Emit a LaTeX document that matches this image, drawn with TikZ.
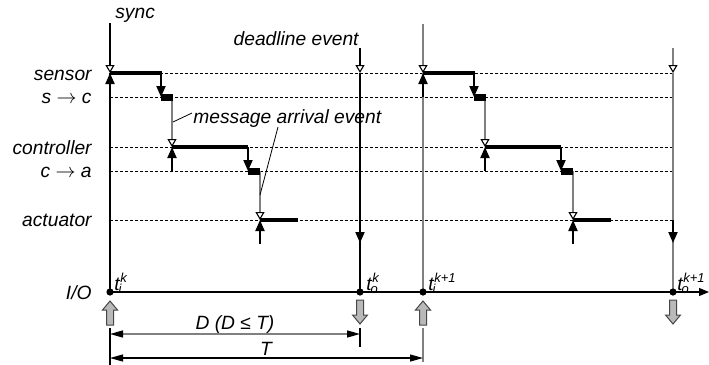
\documentclass[tikz,border=0pt]{standalone}
\usepackage{fontspec}
\setmainfont{Liberation Sans}
\usetikzlibrary{arrows.meta}
\definecolor{lgray}{RGB}{128,128,128}
\definecolor{agray}{RGB}{185,185,185}
\definecolor{aedge}{RGB}{70,70,70}
\newcommand\tlab[2]{\textit{t}\kern-0.6pt\rlap{\raisebox{-1.8pt}{\fontsize{6.5}{7}\selectfont\itshape #1}}\kern0.9pt\raisebox{3.8pt}{\fontsize{6.5}{7}\selectfont\itshape #2}}
\begin{document}
\begin{tikzpicture}[x=0.5pt,y=-0.5pt,
  lbl/.style={font=\fontsize{9.6}{11}\selectfont\itshape, inner sep=0pt},
  dashln/.style={dash pattern=on 1.5pt off 1pt, line width=0.35pt},
  evline/.style={line width=0.55pt},
  opentip/.style={-{Triangle[length=4pt,width=4.5pt,color=black,fill=white]}},
  barline/.style={line width=2pt},
  blockline/.style={line width=3.5pt},
  blkarrow/.style={line width=1pt,-{Triangle[length=5.5pt,width=4.5pt]}},
  dimtips/.style={line width=0.7pt,{Triangle[length=6.5pt,width=3.5pt,color=black]}-{Triangle[length=6.5pt,width=3.5pt,color=black]}},
  uparr/.pic={\filldraw[fill=agray,draw=aedge,line width=0.5pt] (0,0) -- (7.5,9) -- (3.5,9) -- (3.5,24) -- (-3.5,24) -- (-3.5,9) -- (-7.5,9) -- cycle;},
  dnarr/.pic={\filldraw[fill=agray,draw=aedge,line width=0.5pt] (0,0) -- (7.5,-9) -- (3.5,-9) -- (3.5,-24) -- (-3.5,-24) -- (-3.5,-9) -- (-7.5,-9) -- cycle;}
]
\useasboundingbox (0,0) rectangle (709,365);
% dashed lane lines
\foreach \y in {73,97,147,171,220} \draw[dashln] (110,\y) -- (673,\y);
% lane labels
\node[lbl,anchor=base east] (sensor) at (92,80) {sensor};
\node[lbl,anchor=base east] (sc) at (92,103) {s $\rightarrow$ c};
\node[lbl,anchor=base east] (controller) at (92,154) {controller};
\node[lbl,anchor=base east] (ca) at (92,177) {c $\rightarrow$ a};
\node[lbl,anchor=base east] (actuator) at (92,226) {actuator};
\node[lbl,anchor=base east] (io) at (92,299) {I/O};
\node[lbl,anchor=base west] (sync) at (115,18) {sync};
\node[lbl,anchor=base east] (deadline) at (359,45) {deadline event};
\node[lbl,anchor=base west] (msg) at (193,123) {message arrival event};
% cycles
\foreach \o/\c/\top in {0/black/23,313/lgray/24}{
  \draw[evline,\c,opentip] (110+\o,\top) -- (110+\o,73);
  \draw[evline,\c] (110+\o,73) -- (110+\o,292);
  \draw[evline,\c,opentip] (360+\o,48) -- (360+\o,73);
  \draw[evline,\c] (360+\o,73) -- (360+\o,292);
  \draw[evline,lgray,opentip] (172+\o,97) -- (172+\o,147);
  \draw[evline,lgray,opentip] (260+\o,171) -- (260+\o,220);
  \draw[barline] (110+\o,73) -- (162+\o,73);
  \draw[blockline] (161+\o,97) -- (173+\o,97);
  \draw[barline] (172+\o,147) -- (248+\o,147);
  \draw[blockline] (248+\o,171) -- (260+\o,171);
  \draw[barline] (260+\o,220) -- (298+\o,220);
  \draw[blkarrow] (110+\o,97) -- (110+\o,73);
  \draw[blkarrow] (161+\o,73) -- (161+\o,97);
  \draw[blkarrow] (172+\o,171) -- (172+\o,147);
  \draw[blkarrow] (248+\o,147) -- (248+\o,171);
  \draw[blkarrow] (260+\o,244) -- (260+\o,220);
  \draw[blkarrow] (360+\o,220) -- (360+\o,243);
}
% leaders
\coordinate (m1) at (192,113);
\coordinate (m1e) at (173,122);
\coordinate (m2) at (278,127);
\coordinate (m2e) at (260,195);
\draw[line width=0.4pt] (m1) -- (m1e);
\draw[line width=0.4pt] (m2) -- (m2e);
% I/O axis
\draw[evline,-{Triangle[length=5pt,width=4pt]}] (110,292) -- (709,292);
\foreach \x in {110,360,423,673} \fill (\x,292) circle (1.8pt);
\node[lbl,anchor=base west] (ti) at (114,290) {\tlab{i}{k}};
\node[lbl,anchor=base west] (to) at (366,290) {\tlab{o}{k}};
\node[lbl,anchor=base west] (ti1) at (428,290) {\tlab{i}{k+1}};
\node[lbl,anchor=base west] (to1) at (677,290) {\tlab{o}{k+1}};
% block arrows
\pic at (110,301) {uparr};
\pic at (423,301) {uparr};
\pic at (360,324) {dnarr};
\pic at (673,324) {dnarr};
% dimensions
\draw[evline] (110,328) -- (110,365);
\draw[evline] (360,328) -- (360,347);
\draw[evline,lgray] (423,328) -- (423,362);
\draw[dimtips,lgray] (110,334) -- (360,334);
\draw[dimtips,black,line width=0.6pt] (110,358) -- (423,358);
\node[lbl,anchor=base] (dlab) at (235,329) {D (D ≤ T)};
\node[lbl,anchor=base] (tlab) at (266,355) {T};
\end{tikzpicture}
\end{document}
